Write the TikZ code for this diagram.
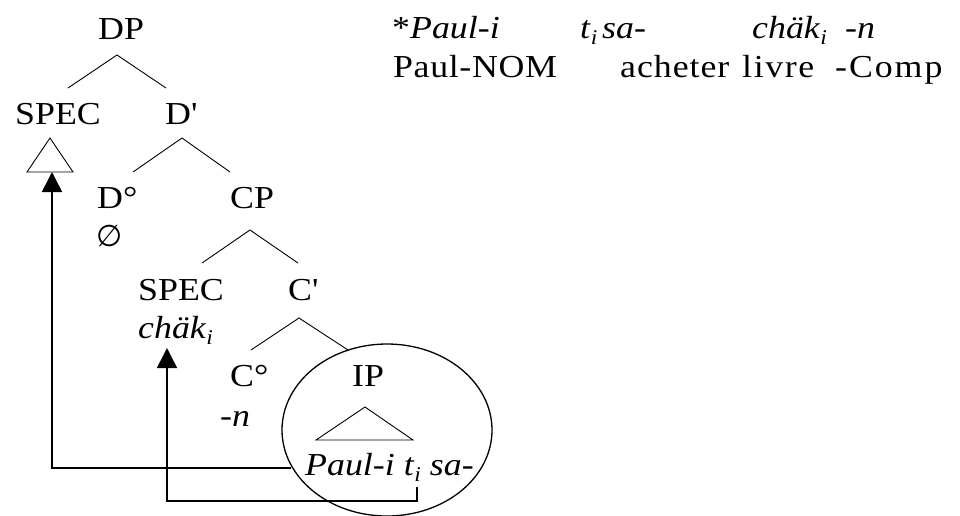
\documentclass[tikz,border=0pt]{standalone}
\usepackage{fontspec}
\setmainfont{Liberation Serif}[FakeStretch=1.12]
\newfontfamily\symfont{DejaVu Sans}
\usetikzlibrary{arrows.meta,shapes.geometric}
\newcommand{\lsub}[1]{\raisebox{-0.2em}{\fontsize{21}{21}\selectfont\itshape #1}}
\newcommand{\spaced}[2]{{\addfontfeature{LetterSpace=#1}#2}}
\tikzset{
  lbl/.style={anchor=base west, inner sep=0pt, font=\fontsize{32}{32}\selectfont},
  branch/.style={line width=0.9pt},
  mover/.style={line width=1.6pt, -{Triangle[length=20pt,width=20pt]}},
}
\begin{document}
\begin{tikzpicture}[x=1pt,y=-1pt]
\useasboundingbox (0,0) rectangle (960,515);
% labels
\node[lbl] (dp) at (98,39) {DP};
\node[lbl] (spec1) at (15,124) {SPEC};
\node[lbl] (dbar) at (165,124) {D\textquotesingle};
\node[lbl] (dzero) at (97,208) {D\textdegree};
\node[lbl] (empty) at (96,246) {{\symfont\fontsize{30}{30}\selectfont ∅}};
\node[lbl] (cp) at (230,208) {CP};
\node[lbl] (spec2) at (138,300) {SPEC};
\node[lbl] (chak) at (138,338) {\textit{chäk}\lsub{i}};
\node[lbl] (cbar) at (288,300) {C\textquotesingle};
\node[lbl] (czero) at (230,386) {C\textdegree};
\node[lbl] (n) at (220,426) {\textit{-n}};
\node[lbl] (ip) at (352,386) {IP};
\node[lbl] (ipstr) at (305,475) {\textit{Paul-i t}\lsub{i}\textit{ sa-}};
% tree lines
\coordinate (a1) at (117,55); \coordinate (a1l) at (68,88); \coordinate (a1r) at (166,88);
\draw[branch] (a1l) -- (a1) -- (a1r);
\coordinate (a2) at (182,138); \coordinate (a2l) at (133,172); \coordinate (a2r) at (230,172);
\draw[branch] (a2l) -- (a2) -- (a2r);
\coordinate (a3) at (250,230); \coordinate (a3l) at (202,263); \coordinate (a3r) at (298,263);
\draw[branch] (a3l) -- (a3) -- (a3r);
\coordinate (a4) at (299,318); \coordinate (a4l) at (251,350); \coordinate (a4r) at (348,350);
\draw[branch] (a4l) -- (a4) -- (a4r);
% triangles
\coordinate (t1) at (50,138); \coordinate (t1l) at (27,172); \coordinate (t1r) at (73,172);
\draw[branch] (t1) -- (t1l) -- (t1r) -- cycle;
\coordinate (t2) at (365,407); \coordinate (t2l) at (316,440); \coordinate (t2r) at (413,440);
\draw[branch] (t2) -- (t2l) -- (t2r) -- cycle;
% ellipse
\node[draw, line width=1.3pt, ellipse, minimum width=210pt, minimum height=172pt, inner sep=0pt] (circ) at (387,430) {};
% movement arrows
\coordinate (m1s) at (291,468); \coordinate (m1c) at (52,468); \coordinate (m1e) at (52,172);
\draw[mover] (m1s) -- (m1c) -- (m1e);
\coordinate (m2s) at (417,487); \coordinate (m2a) at (417,501); \coordinate (m2b) at (167,501); \coordinate (m2e) at (167,348);
\draw[mover] (m2s) -- (m2a) -- (m2b) -- (m2e);
% example sentence
\node[lbl] (w1) at (392,38) {*\textit{Paul-i}};
\node[lbl] (w2) at (580,38) {\textit{t}\lsub{i}};
\node[lbl] (w3) at (602,38) {\textit{sa-}};
\node[lbl] (w4) at (752,38) {\textit{chäk}\lsub{i}};
\node[lbl] (w5) at (845,38) {\textit{-n}};
\node[lbl] (g1) at (393,77) {\spaced{2}{Paul-NOM}};
\node[lbl] (g2) at (620,77) {\spaced{3}{acheter}};
\node[lbl] (g3) at (742,77) {\spaced{5}{livre}};
\node[lbl] (g4) at (835,77) {\spaced{6}{-Comp}};
\end{tikzpicture}
\end{document}
